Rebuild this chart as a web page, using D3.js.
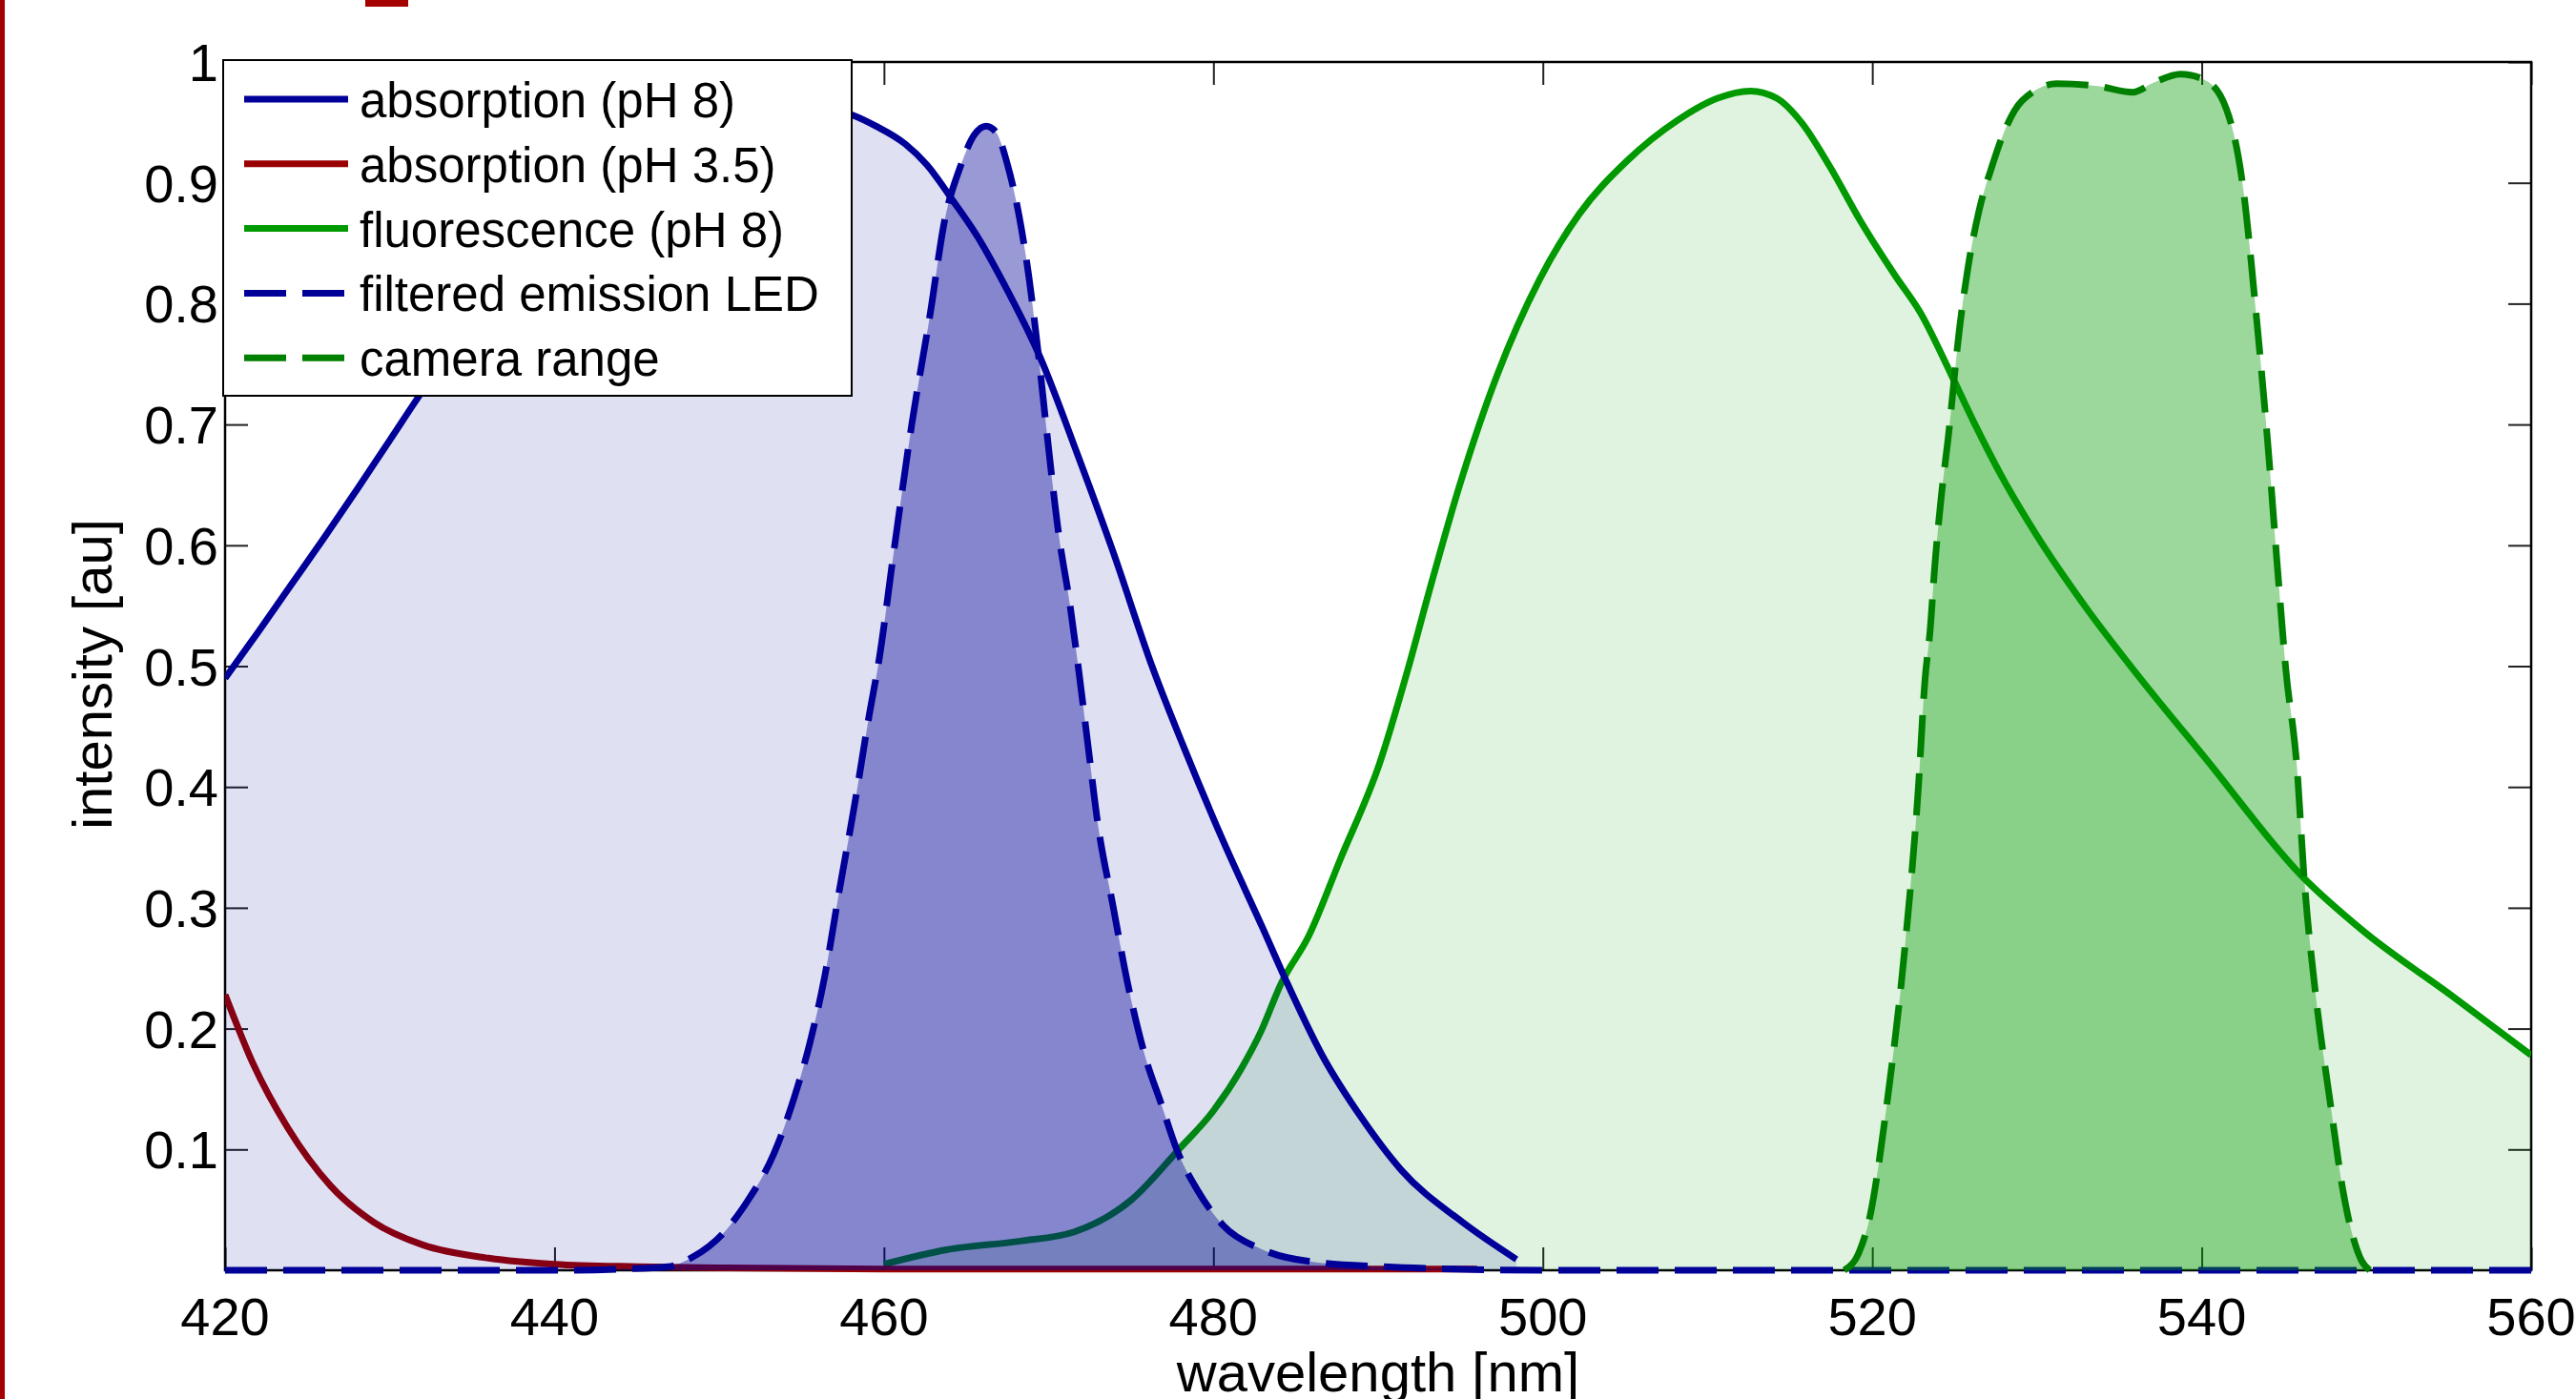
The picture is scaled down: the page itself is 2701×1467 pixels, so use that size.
<!DOCTYPE html>
<html>
<head>
<meta charset="utf-8">
<script src="https://cdn.jsdelivr.net/npm/d3@7"></script>
<style>
  html, body { margin: 0; padding: 0; background: #fff; }
  svg { display: block; }
  text { font-family: "Liberation Sans", Arial, Helvetica, sans-serif; fill: #000; }
</style>
</head>
<body>
<script>
// ---------------- data ----------------
const absWavelength = [420, 422, 424, 426, 428, 430, 432, 434, 436, 438, 440, 442, 444, 446, 448, 450, 452, 454, 456, 458.1, 459.5, 461.3, 462.6, 464.2, 465.7, 467.3, 469.5, 471.7, 473.9, 476.3, 478.2, 480.6, 483.0, 484.4, 486.6, 489.0, 491.4, 495.1, 498.4];
const absorptionPH8 = [0.490, 0.528, 0.567, 0.606, 0.646, 0.687, 0.728, 0.766, 0.802, 0.836, 0.866, 0.893, 0.917, 0.937, 0.953, 0.964, 0.969, 0.968, 0.963, 0.956, 0.947, 0.932, 0.915, 0.885, 0.855, 0.816, 0.755, 0.677, 0.595, 0.499, 0.433, 0.355, 0.283, 0.240, 0.178, 0.126, 0.083, 0.040, 0.009];

const acidWavelength = [420, 421.7, 423.8, 426.4, 429, 432, 436, 440, 445, 450, 460, 470, 480, 490, 496];
const absorptionPH35 = [0.228, 0.171, 0.118, 0.070, 0.040, 0.021, 0.010, 0.005, 0.003, 0.002, 0.001, 0.001, 0.001, 0.001, 0.001];

const fluoWavelength = [460, 463.8, 468.2, 471.6, 475, 477.9, 480, 481.7, 482.9, 484.1, 485.8, 487.7, 490.1, 491.8, 493.1, 495.0, 497.2, 499.8, 502.2, 505.1, 508.2, 510.6, 512.6, 514.2, 515.7, 517.4, 519.3, 521.4, 522.9, 524.8, 526.2, 527.9, 529.9, 533.0, 535.8, 540.3, 546.1, 549.7, 555.2, 560];
const fluorescencePH8 = [0.005, 0.017, 0.024, 0.032, 0.058, 0.100, 0.132, 0.167, 0.198, 0.237, 0.277, 0.340, 0.420, 0.497, 0.562, 0.652, 0.740, 0.820, 0.874, 0.918, 0.952, 0.970, 0.976, 0.970, 0.950, 0.914, 0.868, 0.823, 0.793, 0.741, 0.701, 0.656, 0.610, 0.548, 0.498, 0.4225, 0.326, 0.282, 0.227, 0.178];

const ledWavelength = [420, 430, 440, 444, 446.9, 448.4, 450.2, 451.7, 453.3, 454.6, 455.5, 456.4, 457.3, 458.2, 459.1, 459.7, 460.6, 461.7, 462.8, 463.7, 464.6, 465.5, 466.2, 466.8, 467.5, 468.2, 468.8, 469.4, 469.9, 470.6, 471.3, 471.8, 472.4, 473.0, 473.9, 474.8, 475.9, 476.8, 477.8, 479.0, 480.6, 483.0, 486.6, 490.2, 494.5, 500, 520, 540, 560];
const ledEmission = [0, 0, 0, 0.001, 0.003, 0.011, 0.030, 0.057, 0.096, 0.145, 0.188, 0.243, 0.315, 0.384, 0.459, 0.505, 0.595, 0.701, 0.791, 0.870, 0.912, 0.940, 0.947, 0.942, 0.915, 0.873, 0.822, 0.755, 0.692, 0.610, 0.550, 0.499, 0.433, 0.368, 0.302, 0.237, 0.175, 0.139, 0.099, 0.067, 0.037, 0.017, 0.006, 0.003, 0.001, 0, 0, 0, 0];

const camWavelength = [518.3, 519.2, 519.8, 520.9, 522.0, 522.8, 523.2, 523.5, 523.8, 524.2, 524.6, 525.3, 525.8, 526.5, 527.3, 528.0, 529.1, 531.2, 533.7, 535.8, 537.1, 538.7, 540.2, 541.5, 542.5, 543.3, 544.0, 544.6, 545.1, 545.8, 546.2, 546.9, 547.8, 548.6, 549.7, 550.2];
const cameraRange = [0, 0.015, 0.041, 0.139, 0.27, 0.40, 0.489, 0.528, 0.584, 0.642, 0.688, 0.78, 0.829, 0.878, 0.915, 0.942, 0.968, 0.982, 0.980, 0.975, 0.983, 0.990, 0.985, 0.961, 0.897, 0.792, 0.686, 0.581, 0.498, 0.413, 0.328, 0.23, 0.139, 0.064, 0.008, 0];

const xTicks = [420, 440, 460, 480, 500, 520, 540, 560];
const yTicks = [0.1, 0.2, 0.3, 0.4, 0.5, 0.6, 0.7, 0.8, 0.9, 1];
const legendLabels = ["absorption (pH 8)", "absorption (pH 3.5)", "fluorescence (pH 8)", "filtered emission LED", "camera range"];
const xLabel = "wavelength [nm]";
const yLabel = "intensity [au]";

// ---------------- layout ----------------
const W = 2701, H = 1467;
const L = 236, R = 2654, T = 65, B = 1332;
const BLUE = "#000099", RED = "#990000", GREEN = "#009900", DKGREEN = "#008000";
const LW = 7;

const svg = d3.select("body").append("svg").attr("width", W).attr("height", H);

const x = d3.scaleLinear().domain([420, 560]).range([L, R]);
const y = d3.scaleLinear().domain([0, 1]).range([B, T]);

const defs = svg.append("defs");
defs.append("clipPath").attr("id", "plotclip")
  .append("rect").attr("x", L).attr("y", T).attr("width", R - L).attr("height", B - T + 4);

// decorative red edges (part of the original figure frame)
svg.append("rect").attr("x", 0).attr("y", 0).attr("width", 5).attr("height", H).attr("fill", "#a50000");
svg.append("rect").attr("x", 383).attr("y", 0).attr("width", 45).attr("height", 7).attr("fill", "#a50000");

// ---------------- axes (box + inward ticks) ----------------
const axG = svg.append("g");
const TL = 24;
const bottomAxis = d3.axisBottom(x).tickValues(xTicks).tickSize(-TL).tickFormat("");
const topAxis = d3.axisTop(x).tickValues(xTicks).tickSize(-TL).tickFormat("");
const leftAxis = d3.axisLeft(y).tickValues(yTicks).tickSize(-TL).tickFormat("");
const rightAxis = d3.axisRight(y).tickValues(yTicks).tickSize(-TL).tickFormat("");
axG.append("g").attr("transform", `translate(0,${B})`).call(bottomAxis);
axG.append("g").attr("transform", `translate(0,${T})`).call(topAxis);
axG.append("g").attr("transform", `translate(${L},0)`).call(leftAxis);
axG.append("g").attr("transform", `translate(${R},0)`).call(rightAxis);
axG.selectAll(".domain").remove();
axG.selectAll(".tick line").attr("stroke", "#222").attr("stroke-width", 2);
axG.append("rect").attr("x", L).attr("y", T).attr("width", R - L).attr("height", B - T)
  .attr("fill", "none").attr("stroke", "#000").attr("stroke-width", 2.5);

// tick labels
svg.append("g").selectAll("text").data(xTicks).join("text")
  .attr("x", d => x(d)).attr("y", 1400).attr("text-anchor", "middle")
  .attr("font-size", 56).text(d => d);
svg.append("g").selectAll("text").data(yTicks).join("text")
  .attr("x", 229).attr("y", d => y(d) + 20).attr("text-anchor", "end")
  .attr("font-size", 56).text(d => d3.format("~g")(d));

svg.append("text").attr("x", (L + R) / 2).attr("y", 1459).attr("text-anchor", "middle")
  .attr("font-size", 58).text(xLabel);
svg.append("text").attr("transform", `translate(117,707) rotate(-90)`).attr("text-anchor", "middle")
  .attr("font-size", 58).text(yLabel);

// ---------------- data layers ----------------
const plot = svg.append("g").attr("clip-path", "url(#plotclip)");
const toPts = (xs, ys) => xs.map((w, i) => [w, ys[i]]);
const line = d3.line().x(d => x(d[0])).y(d => y(d[1])).curve(d3.curveMonotoneX);
const area = d3.area().x(d => x(d[0])).y0(y(0)).y1(d => y(d[1])).curve(d3.curveMonotoneX);

const fluo = toPts(fluoWavelength, fluorescencePH8);
const abs8 = toPts(absWavelength, absorptionPH8);
const abs35 = toPts(acidWavelength, absorptionPH35);
const led = toPts(ledWavelength, ledEmission);
const cam = toPts(camWavelength, cameraRange);

const DASH = "44,17";
// fluorescence
plot.append("path").attr("d", area(fluo)).attr("fill", GREEN).attr("fill-opacity", 0.12);
plot.append("path").attr("d", line(fluo)).attr("fill", "none").attr("stroke", GREEN).attr("stroke-width", LW);
// absorption pH 3.5
plot.append("path").attr("d", line(abs35)).attr("fill", "none").attr("stroke", RED).attr("stroke-width", LW);
// absorption pH 8
plot.append("path").attr("d", area(abs8)).attr("fill", BLUE).attr("fill-opacity", 0.12);
plot.append("path").attr("d", line(abs8)).attr("fill", "none").attr("stroke", BLUE).attr("stroke-width", LW);
// LED
plot.append("path").attr("d", area(led)).attr("fill", BLUE).attr("fill-opacity", 0.4);
plot.append("path").attr("d", line(led)).attr("fill", "none").attr("stroke", BLUE).attr("stroke-width", LW)
  .attr("stroke-dasharray", DASH);
// camera
plot.append("path").attr("d", area(cam)).attr("fill", GREEN).attr("fill-opacity", 0.39);
plot.append("path").attr("d", line(cam)).attr("fill", "none").attr("stroke", DKGREEN).attr("stroke-width", LW)
  .attr("stroke-dasharray", DASH);

// ---------------- legend ----------------
const lg = svg.append("g");
lg.append("rect").attr("x", 234).attr("y", 63).attr("width", 659).attr("height", 352)
  .attr("fill", "#fff").attr("stroke", "#000").attr("stroke-width", 2);
const legendStyles = [
  { color: BLUE, dash: null },
  { color: RED, dash: null },
  { color: GREEN, dash: null },
  { color: BLUE, dash: DASH },
  { color: DKGREEN, dash: DASH }
];
const rowY = i => 104 + i * 67.8;
legendLabels.forEach((lab, i) => {
  const s = legendStyles[i];
  const ln = lg.append("line").attr("x1", 256).attr("x2", s.dash ? 361 : 365)
    .attr("y1", rowY(i)).attr("y2", rowY(i))
    .attr("stroke", s.color).attr("stroke-width", LW);
  if (s.dash) ln.attr("stroke-dasharray", DASH);
  lg.append("text").attr("x", 377).attr("y", rowY(i) + 19).attr("font-size", 51).text(lab);
});
</script>
</body>
</html>
